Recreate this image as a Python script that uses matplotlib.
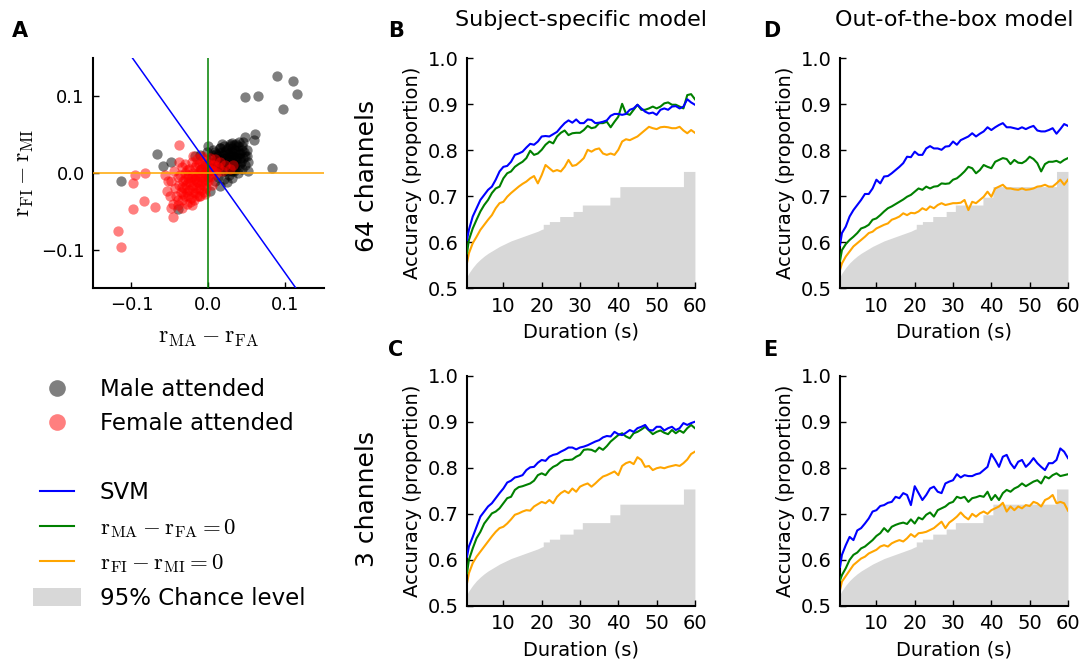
import numpy as np
import matplotlib
matplotlib.use('Agg')
import matplotlib.pyplot as plt
from matplotlib.lines import Line2D

plt.rcParams['font.family'] = 'DejaVu Sans'
plt.rcParams['mathtext.fontset'] = 'cm'

# ---- panel A: scatter of correlation differences ----
male_x = [0.089, 0.110, 0.115, 0.048, 0.064, 0.097, 0.060, 0.059, 0.048, 0.083,
          0.052, -0.067, -0.059, -0.113, -0.049, 0.030, 0.028, 0.050, 0.041, 0.033,
          0.015, 0.002, -0.039, 0.000, -0.011, -0.017, 0.015,
          0.005, 0.008, 0.010, 0.012, 0.015, 0.017, 0.018, 0.020, 0.022, 0.023,
          0.025, 0.025, 0.027, 0.028, 0.030, 0.030, 0.032, 0.033, 0.035, 0.035,
          0.037, 0.038, 0.040, 0.040, 0.042, 0.043, 0.045, 0.045, 0.047, 0.050,
          0.020, 0.015, 0.010, 0.013, 0.020, 0.027, 0.035, 0.005, 0.002, -0.005,
          0.008, 0.018, 0.028, 0.032, 0.022, 0.038, 0.044, 0.048, 0.052, 0.012,
          0.017, 0.026, 0.033, -0.002, 0.006, 0.024, 0.030, -0.010, 0.000, 0.040,
          0.004, 0.009, 0.014, 0.019, 0.024, 0.029, 0.034, 0.039, 0.044, 0.036,
          0.031, 0.021, 0.016, 0.026, 0.036, 0.041, 0.046, 0.011, 0.006, 0.031,
          0.041, 0.023, 0.028, 0.034, 0.019]
male_y = [0.127, 0.120, 0.103, 0.099, 0.100, 0.083, 0.051, 0.043, 0.047, 0.007,
          0.003, 0.025, 0.009, -0.011, 0.015, 0.039, 0.035, 0.022, 0.026, 0.009,
          -0.017, -0.024, -0.047, 0.035, 0.024, 0.022, 0.033,
          0.020, 0.015, 0.025, 0.010, 0.018, 0.028, 0.005, 0.020, 0.012, 0.030,
          0.025, 0.003, 0.018, 0.008, 0.028, 0.015, 0.022, 0.002, 0.030, 0.012,
          0.020, 0.035, 0.025, 0.008, 0.015, 0.030, 0.040, 0.020, 0.010, 0.030,
          0.035, 0.032, 0.005, -0.005, -0.008, -0.002, 0.005, 0.008, 0.015, 0.010,
          -0.010, 0.038, 0.038, 0.010, 0.002, 0.000, 0.005, 0.022, 0.015, 0.022,
          0.012, 0.032, 0.036, 0.028, 0.030, -0.012, -0.006, 0.005, -0.005, 0.040,
          0.024, 0.028, 0.026, 0.024, 0.020, 0.022, 0.025, 0.030, 0.035, 0.038,
          0.033, 0.028, 0.008, 0.010, 0.017, 0.020, 0.028, 0.018, 0.012, 0.003,
          0.012, 0.016, 0.026, 0.020, 0.015]

female_x = [-0.038, -0.096, -0.098, -0.082, -0.084, -0.098, -0.070, -0.118, -0.114, -0.057,
            -0.052, -0.054, -0.046, -0.048, -0.011,
            -0.040, -0.038, -0.036, -0.035, -0.033, -0.032, -0.030, -0.030, -0.028, -0.027,
            -0.025, -0.025, -0.023, -0.022, -0.020, -0.020, -0.018, -0.017, -0.016, -0.015,
            -0.014, -0.013, -0.012, -0.010, -0.010, -0.008, -0.007, -0.006, -0.005, -0.004,
            -0.003, -0.002, 0.000, 0.000, 0.002, 0.003, 0.005, 0.007, 0.008, 0.010,
            0.012, 0.015, 0.018, 0.022, 0.028, 0.032, -0.042, -0.044, -0.046, -0.040,
            -0.034, -0.028, -0.024, -0.019, -0.012, -0.035, -0.030, -0.022, -0.015, -0.008,
            -0.045, -0.048, -0.018, -0.011, -0.026, -0.004, 0.004, -0.038, -0.050, -0.020,
            -0.037, -0.034, -0.031, -0.029, -0.026, -0.024, -0.021, -0.019, -0.017, -0.015,
            -0.013, -0.011, -0.009, -0.007, -0.006, -0.003, -0.001, 0.001, 0.004, 0.006,
            -0.028, -0.033, -0.039, -0.022, -0.016, -0.009, -0.005, -0.012, -0.020, -0.027]
female_y = [0.036, -0.002, -0.013, 0.000, -0.037, -0.047, -0.044, -0.076, -0.096, -0.002,
            -0.011, -0.024, -0.057, -0.046, -0.030,
            -0.005, -0.015, -0.025, -0.035, -0.010, -0.020, -0.030, 0.000, -0.040, -0.012,
            -0.022, 0.005, -0.032, -0.005, -0.015, -0.025, 0.008, -0.008, -0.020, -0.030,
            0.000, -0.012, 0.012, -0.005, -0.022, 0.005, -0.015, 0.018, -0.008, 0.008,
            -0.020, 0.000, 0.012, -0.010, 0.020, 0.004, -0.004, 0.010, 0.018, 0.000,
            0.008, 0.015, 0.003, 0.010, 0.005, 0.010, -0.030, -0.020, -0.040, -0.042,
            -0.045, -0.025, -0.038, -0.035, -0.030, 0.008, 0.012, 0.015, 0.018, 0.022,
            0.002, -0.010, -0.002, 0.004, -0.006, -0.028, -0.015, 0.015, -0.030, 0.022,
            -0.002, -0.018, -0.008, -0.016, -0.030, -0.012, -0.020, -0.008, -0.026, -0.012,
            -0.004, -0.016, -0.010, -0.002, -0.025, -0.012, 0.005, -0.004, 0.010, 0.002,
            0.004, -0.028, -0.035, -0.042, 0.010, 0.014, 0.000, -0.020, 0.000, -0.002]

svm_slope = -1.414
svm_intercept = 0.0104

# ---- panels B-E: accuracy vs duration ----
duration = np.concatenate([[0.5], np.arange(1, 61)])

# 95% chance level (same for every panel): smooth part, then steps
chance_duration = [0.5, 1, 2, 3, 4, 5, 6, 7, 8, 9, 10,
                   11, 12, 13, 14, 15, 16, 17, 18, 19, 20,
                   20.4, 20.4, 22, 22, 24.7, 24.7, 28.2, 28.2, 30.6, 30.6,
                   37.8, 37.8, 40.4, 40.4, 57, 57, 60]
chance_level = [0.525, 0.533, 0.545, 0.555, 0.563, 0.570, 0.576, 0.581, 0.586, 0.591, 0.595,
                0.599, 0.603, 0.606, 0.609, 0.612, 0.615, 0.618, 0.621, 0.624, 0.628,
                0.629, 0.639, 0.639, 0.645, 0.645, 0.656, 0.656, 0.667, 0.667, 0.681,
                0.681, 0.698, 0.698, 0.721, 0.721, 0.754, 0.754]

B_svm = [0.605,
         0.627, 0.656, 0.674, 0.692, 0.703, 0.714, 0.721, 0.736, 0.754, 0.764,
         0.766, 0.775, 0.790, 0.793, 0.797, 0.806, 0.814, 0.812, 0.819, 0.830,
         0.831, 0.830, 0.835, 0.840, 0.850, 0.859, 0.865, 0.860, 0.867, 0.859,
         0.859, 0.867, 0.866, 0.859, 0.860, 0.862, 0.865, 0.875, 0.879, 0.879,
         0.877, 0.879, 0.888, 0.891, 0.899, 0.891, 0.884, 0.880, 0.882, 0.877,
         0.888, 0.891, 0.888, 0.895, 0.896, 0.891, 0.895, 0.911, 0.904, 0.899]
B_ma = [0.576,
        0.605, 0.630, 0.649, 0.667, 0.681, 0.692, 0.707, 0.717, 0.721, 0.739,
        0.750, 0.754, 0.764, 0.770, 0.775, 0.783, 0.799, 0.790, 0.793, 0.801,
        0.812, 0.819, 0.815, 0.830, 0.838, 0.843, 0.833, 0.837, 0.838, 0.838,
        0.844, 0.853, 0.848, 0.850, 0.859, 0.859, 0.862, 0.850, 0.862, 0.873,
        0.901, 0.880, 0.877, 0.888, 0.899, 0.888, 0.888, 0.891, 0.895, 0.891,
        0.895, 0.902, 0.904, 0.899, 0.899, 0.895, 0.891, 0.920, 0.922, 0.911]
B_fi = [0.555,
        0.576, 0.598, 0.612, 0.627, 0.638, 0.649, 0.659, 0.674, 0.685, 0.688,
        0.699, 0.707, 0.714, 0.721, 0.727, 0.732, 0.739, 0.744, 0.728, 0.746,
        0.768, 0.761, 0.754, 0.757, 0.754, 0.764, 0.779, 0.766, 0.768, 0.775,
        0.783, 0.801, 0.797, 0.802, 0.804, 0.793, 0.790, 0.793, 0.790, 0.801,
        0.819, 0.824, 0.822, 0.826, 0.830, 0.837, 0.844, 0.851, 0.848, 0.846,
        0.850, 0.851, 0.850, 0.848, 0.848, 0.851, 0.843, 0.837, 0.844, 0.838]

C_svm = [0.607,
         0.629, 0.650, 0.672, 0.694, 0.705, 0.716, 0.723, 0.734, 0.745, 0.755,
         0.768, 0.772, 0.779, 0.781, 0.784, 0.795, 0.801, 0.802, 0.811, 0.817,
         0.815, 0.824, 0.828, 0.830, 0.835, 0.839, 0.844, 0.844, 0.840, 0.844,
         0.846, 0.849, 0.853, 0.857, 0.860, 0.866, 0.869, 0.868, 0.878, 0.873,
         0.871, 0.876, 0.882, 0.878, 0.886, 0.889, 0.893, 0.882, 0.881, 0.889,
         0.889, 0.881, 0.886, 0.889, 0.882, 0.886, 0.897, 0.893, 0.897, 0.900]
C_ma = [0.571,
        0.600, 0.625, 0.647, 0.661, 0.679, 0.690, 0.701, 0.705, 0.712, 0.723,
        0.734, 0.737, 0.752, 0.758, 0.760, 0.763, 0.766, 0.772, 0.784, 0.788,
        0.784, 0.795, 0.802, 0.806, 0.813, 0.817, 0.817, 0.818, 0.824, 0.828,
        0.839, 0.840, 0.839, 0.835, 0.844, 0.839, 0.847, 0.857, 0.864, 0.871,
        0.875, 0.868, 0.864, 0.875, 0.878, 0.883, 0.889, 0.881, 0.873, 0.878,
        0.881, 0.876, 0.873, 0.882, 0.875, 0.881, 0.876, 0.886, 0.893, 0.886]
C_fi = [0.549,
        0.571, 0.593, 0.607, 0.618, 0.629, 0.640, 0.651, 0.661, 0.669, 0.672,
        0.679, 0.688, 0.698, 0.701, 0.705, 0.708, 0.707, 0.716, 0.721, 0.726,
        0.723, 0.730, 0.723, 0.737, 0.745, 0.750, 0.745, 0.755, 0.748, 0.759,
        0.763, 0.766, 0.759, 0.766, 0.774, 0.781, 0.784, 0.788, 0.792, 0.784,
        0.804, 0.810, 0.813, 0.808, 0.823, 0.817, 0.802, 0.804, 0.795, 0.799,
        0.801, 0.799, 0.802, 0.804, 0.806, 0.804, 0.810, 0.818, 0.830, 0.835]

D_svm = [0.594,
         0.620, 0.634, 0.656, 0.670, 0.681, 0.692, 0.705, 0.705, 0.717, 0.736,
         0.728, 0.743, 0.744, 0.750, 0.757, 0.764, 0.772, 0.786, 0.785, 0.797,
         0.790, 0.790, 0.804, 0.809, 0.804, 0.804, 0.801, 0.808, 0.809, 0.819,
         0.812, 0.822, 0.826, 0.830, 0.837, 0.830, 0.836, 0.841, 0.850, 0.844,
         0.850, 0.855, 0.859, 0.850, 0.850, 0.848, 0.846, 0.850, 0.846, 0.850,
         0.853, 0.843, 0.841, 0.841, 0.844, 0.848, 0.836, 0.846, 0.857, 0.853]
D_ma = [0.560,
        0.583, 0.596, 0.605, 0.612, 0.620, 0.630, 0.633, 0.638, 0.649, 0.652,
        0.659, 0.667, 0.674, 0.678, 0.683, 0.688, 0.693, 0.699, 0.703, 0.710,
        0.717, 0.714, 0.721, 0.717, 0.721, 0.722, 0.728, 0.727, 0.728, 0.736,
        0.739, 0.746, 0.754, 0.764, 0.761, 0.750, 0.757, 0.768, 0.764, 0.761,
        0.775, 0.779, 0.783, 0.781, 0.770, 0.779, 0.773, 0.772, 0.777, 0.786,
        0.781, 0.772, 0.754, 0.770, 0.775, 0.775, 0.777, 0.773, 0.779, 0.783]
D_fi = [0.540,
        0.554, 0.569, 0.580, 0.591, 0.598, 0.605, 0.612, 0.620, 0.623, 0.630,
        0.634, 0.638, 0.641, 0.649, 0.652, 0.656, 0.663, 0.659, 0.664, 0.663,
        0.667, 0.674, 0.670, 0.678, 0.674, 0.681, 0.685, 0.681, 0.683, 0.685,
        0.685, 0.686, 0.692, 0.670, 0.688, 0.685, 0.692, 0.699, 0.710, 0.699,
        0.717, 0.721, 0.725, 0.717, 0.717, 0.715, 0.714, 0.717, 0.714, 0.715,
        0.717, 0.721, 0.722, 0.725, 0.721, 0.721, 0.728, 0.736, 0.725, 0.736]

E_svm = [0.585,
         0.611, 0.632, 0.650, 0.643, 0.664, 0.669, 0.679, 0.690, 0.705, 0.708,
         0.717, 0.719, 0.724, 0.726, 0.737, 0.734, 0.745, 0.741, 0.719, 0.760,
         0.745, 0.730, 0.741, 0.755, 0.759, 0.748, 0.745, 0.766, 0.770, 0.773,
         0.786, 0.779, 0.784, 0.782, 0.782, 0.786, 0.788, 0.795, 0.802, 0.830,
         0.817, 0.802, 0.824, 0.828, 0.810, 0.799, 0.813, 0.817, 0.802, 0.810,
         0.821, 0.810, 0.802, 0.795, 0.810, 0.810, 0.817, 0.842, 0.835, 0.821]
E_ma = [0.556,
        0.567, 0.582, 0.600, 0.611, 0.616, 0.625, 0.629, 0.636, 0.643, 0.652,
        0.658, 0.669, 0.661, 0.672, 0.676, 0.679, 0.681, 0.678, 0.688, 0.679,
        0.692, 0.688, 0.698, 0.703, 0.694, 0.708, 0.712, 0.716, 0.723, 0.726,
        0.737, 0.734, 0.737, 0.726, 0.734, 0.736, 0.739, 0.737, 0.748, 0.730,
        0.741, 0.730, 0.745, 0.752, 0.748, 0.755, 0.759, 0.766, 0.760, 0.765,
        0.770, 0.773, 0.766, 0.781, 0.777, 0.784, 0.788, 0.782, 0.784, 0.786]
E_fi = [0.535,
        0.553, 0.565, 0.577, 0.589, 0.596, 0.603, 0.607, 0.614, 0.618, 0.622,
        0.629, 0.632, 0.629, 0.636, 0.640, 0.643, 0.640, 0.647, 0.656, 0.650,
        0.658, 0.659, 0.661, 0.665, 0.669, 0.676, 0.683, 0.669, 0.681, 0.687,
        0.694, 0.703, 0.694, 0.688, 0.700, 0.694, 0.701, 0.705, 0.700, 0.708,
        0.712, 0.716, 0.724, 0.705, 0.716, 0.708, 0.716, 0.712, 0.719, 0.717,
        0.726, 0.723, 0.716, 0.730, 0.734, 0.741, 0.723, 0.726, 0.723, 0.707]

BLUE = '#0000ff'
GREEN = '#008000'
ORANGE = '#ffa500'
GREY = '#d8d8d8'


def style_axes(ax):
    for s in ['top', 'right']:
        ax.spines[s].set_visible(False)
    for s in ['left', 'bottom']:
        ax.spines[s].set_linewidth(1.5)
    ax.tick_params(direction='in', length=4.5, width=1, labelsize=14,
                   top=False, right=False, pad=6)


fig = plt.figure(figsize=(10.86, 6.63), dpi=100)

# panel A
axA = fig.add_axes([0.0856, 0.5656, 0.2127, 0.3469])
axA.scatter(male_x, male_y, s=55, c='black', alpha=0.5, linewidths=0, zorder=2)
axA.scatter(female_x, female_y, s=55, c='red', alpha=0.5, linewidths=0, zorder=3)
axA.axline((0, svm_intercept), slope=svm_slope, color=BLUE, lw=1.1, zorder=4)
axA.axvline(0, color=GREEN, lw=1.1, zorder=4)
axA.axhline(0, color=ORANGE, lw=1.1, zorder=4)
axA.set_xlim(-0.15, 0.15)
axA.set_ylim(-0.15, 0.15)
axA.set_xticks([-0.1, 0.0, 0.1])
axA.set_yticks([-0.1, 0.0, 0.1])
style_axes(axA)
axA.tick_params(labelsize=13)
axA.set_xlabel(r'$\mathrm{r_{MA} - r_{FA}}$', fontsize=17, labelpad=8)
axA.set_ylabel(r'$\mathrm{r_{FI} - r_{MI}}$', fontsize=17, labelpad=4)

# panels B-E
panels = [
    ([0.4300, 0.5652, 0.2099, 0.3469], B_svm, B_ma, B_fi),
    ([0.4300, 0.0860, 0.2099, 0.3474], C_svm, C_ma, C_fi),
    ([0.7735, 0.5652, 0.2099, 0.3469], D_svm, D_ma, D_fi),
    ([0.7735, 0.0860, 0.2099, 0.3474], E_svm, E_ma, E_fi),
]
for rect, svm, ma, fi in panels:
    ax = fig.add_axes(rect)
    ax.fill_between(chance_duration, 0.5, chance_level, color=GREY, lw=0, zorder=1)
    ax.plot(duration, fi, color=ORANGE, lw=1.5, zorder=2)
    ax.plot(duration, ma, color=GREEN, lw=1.5, zorder=3)
    ax.plot(duration, svm, color=BLUE, lw=1.5, zorder=4)
    ax.set_xlim(0.5, 60)
    ax.set_ylim(0.5, 1.0)
    ax.set_xticks([10, 20, 30, 40, 50, 60])
    ax.set_yticks([0.5, 0.6, 0.7, 0.8, 0.9, 1.0])
    style_axes(ax)
    ax.set_xlabel('Duration (s)', fontsize=14, labelpad=5)
    ax.set_ylabel('Accuracy (proportion)', fontsize=14, labelpad=4)

# titles, row labels and panel letters
fig.text(581 / 1086, 1 - 26 / 663, 'Subject-specific model', fontsize=16,
         ha='center', va='baseline')
fig.text(954 / 1086, 1 - 26 / 663, 'Out-of-the-box model', fontsize=16,
         ha='center', va='baseline')
fig.text(367 / 1086, 1 - 176 / 663, '64 channels', fontsize=18, rotation=90,
         ha='center', va='center')
fig.text(367 / 1086, 1 - 499 / 663, '3 channels', fontsize=18, rotation=90,
         ha='center', va='center')
for letter, x, y in [('A', 12, 37), ('B', 388, 37), ('C', 388, 356),
                     ('D', 763, 37), ('E', 763, 356)]:
    fig.text(x / 1086, 1 - y / 663, letter, fontsize=15, fontweight='bold',
             ha='left', va='baseline')

# legend
rect_marker = [(-1.36, -0.5), (1.36, -0.5), (1.36, 0.5), (-1.36, 0.5), (-1.36, -0.5)]
handles = [
    Line2D([], [], ls='none', marker='o', markersize=12, color='black', alpha=0.5,
           markeredgewidth=0),
    Line2D([], [], ls='none', marker='o', markersize=12, color='red', alpha=0.5,
           markeredgewidth=0),
    Line2D([], [], ls='none'),
    Line2D([], [], color=BLUE, lw=1.5),
    Line2D([], [], color=GREEN, lw=1.5),
    Line2D([], [], color=ORANGE, lw=1.5),
    Line2D([], [], ls='none', marker=rect_marker, markersize=35, color=GREY,
           markeredgewidth=0),
]
labels = ['Male attended', 'Female attended', ' ', 'SVM',
          r'$\mathrm{r_{MA} - r_{FA} = 0}$', r'$\mathrm{r_{FI} - r_{MI} = 0}$',
          '95% Chance level']
fig.legend(handles, labels, loc='upper left', bbox_to_anchor=(40 / 1086, 1 - 378 / 663),
           frameon=False, fontsize=16.5, handlelength=1.5, handletextpad=1.1,
           labelspacing=0.5, borderpad=0, borderaxespad=0)

fig.savefig('out.png', dpi=100)
